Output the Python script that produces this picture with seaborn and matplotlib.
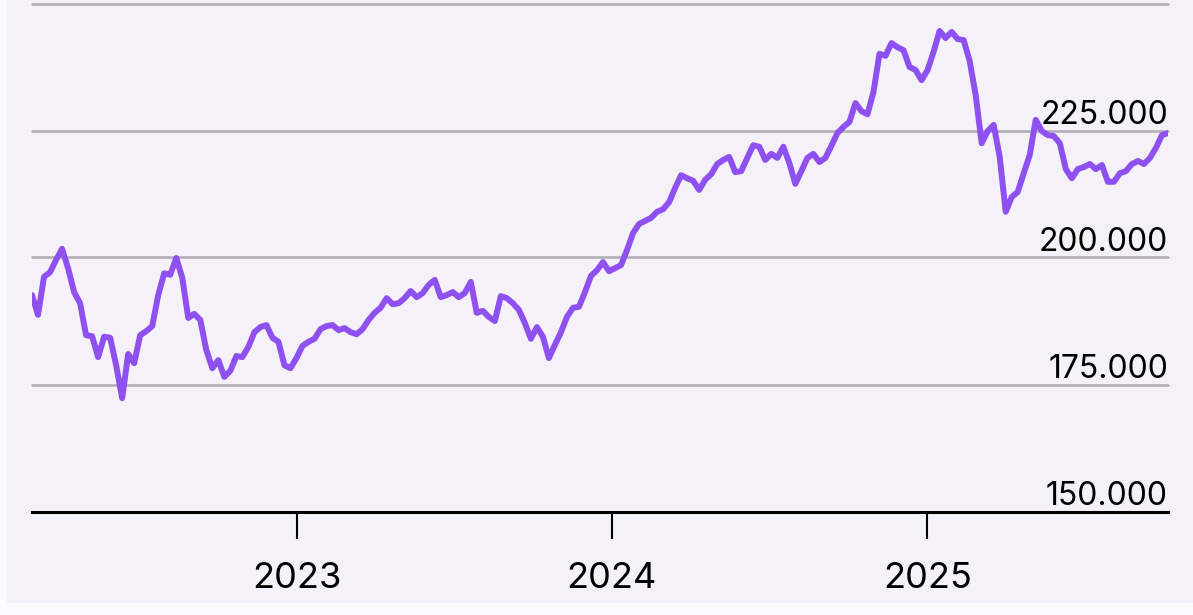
import matplotlib
matplotlib.use("Agg")
import matplotlib.pyplot as plt
import matplotlib.dates as mdates
from matplotlib.patches import Rectangle
import pandas as pd
import seaborn as sns

# ---- data (weekly series) ----
start_date = "2022-02-28"
end_date = "2025-10-07"
values = [
    192600, 188700, 196200, 197100, 199500, 201700, 197900, 193200, 191000, 184700,
    184500, 180400, 184400, 184200, 178800, 172300, 181000, 179200, 184700, 185500,
    186500, 192600, 196900, 196600, 199900, 196000, 188100, 188900, 187700, 181800,
    178200, 179800, 176500,
    177700, 180600, 180400, 182400, 185300, 186300, 186700, 184200, 183400, 178800,
    178200, 180200, 182600, 183400, 184000, 185900, 186500, 186700, 185700, 186100,
    185300, 184900, 185900, 187700, 189100, 190100, 192000, 190800, 191000, 192000,
    193400, 192200, 193000, 194600, 195600, 192200, 192600, 193200, 192200, 193000,
    195200, 189100, 189500, 188300, 187500, 192400, 192000, 191000, 189700, 187100,
    184000, 186300, 184400, 180200, 182800, 185300, 188300, 190100, 190300, 193200,
    196400, 197500,
    199100, 197300, 197900, 198500, 201500, 204800, 206600, 207200, 207800, 209000,
    209500, 210900, 213700, 216200, 215600, 215100, 213300, 215300, 216400, 218400,
    219200, 219800, 216800, 217000, 219600, 222100, 221800, 219200, 220400, 219600,
    221800, 218600,
    214500, 217000, 219600, 220400, 218800, 219600, 222000, 224500, 225700, 226700,
    230400, 228800, 228200, 232600, 240100, 239700, 242200, 241400, 240800, 237500,
    236900, 234900, 236900, 240500, 244600, 243200, 244400, 243000, 242800, 238700,
    232000,
    222500, 224900, 226100, 219800, 209000, 211900, 212900, 216600, 220200, 227100,
    224900, 224100, 223900, 222500, 217400, 215600, 217400, 217800, 218400, 217400,
    218200, 214900, 214900, 216600, 217000, 218400, 219000, 218400, 219600, 221600,
    224100, 224500,
]
y_ticks = [150000, 175000, 200000, 225000, 250000]
x_years = ["2023-01-01", "2024-01-01", "2025-01-01"]

df = pd.DataFrame({
    "date": pd.date_range(start_date, end_date, periods=len(values)),
    "value": values,
})

# ---- style ----
bg = "#f4f1f9"
frame = "#fbfafd"
line_color = "#8f50f0"
grid_color = "#b2afb6"

sns.set_theme(style="white")
plt.rcParams["font.family"] = ["Inter", "DejaVu Sans"]

W, H = 1193, 615
fig = plt.figure(figsize=(W / 100, H / 100), dpi=100, facecolor=frame)
fig.patches.append(Rectangle((7 / W, 12 / H), 1 - 7 / W, 1 - 12 / H,
                             transform=fig.transFigure, facecolor=bg,
                             edgecolor="none", zorder=-10))

ax = fig.add_axes([32 / W, 103.5 / H, 1136 / W, 508 / H])
ax.set_zorder(2)
ax.set_facecolor("none")

for v in y_ticks[1:]:
    ax.axhline(v, color=grid_color, lw=1.9, zorder=1, clip_on=False)

sns.lineplot(data=df, x="date", y="value", ax=ax, color=line_color,
             linewidth=4.3, zorder=3)
for ln in ax.get_lines():
    ln.set_solid_joinstyle("round")
    ln.set_solid_capstyle("round")

ax.set_xlim(df["date"].iloc[0], df["date"].iloc[-1])
ax.set_ylim(y_ticks[0], y_ticks[-1])

for s in ["top", "right", "left"]:
    ax.spines[s].set_visible(False)
ax.spines["bottom"].set_color("black")
ax.spines["bottom"].set_linewidth(2.2)
ax.spines["bottom"].set_zorder(4)

ax.set_yticks([])
ax.set_xlabel("")
ax.set_ylabel("")
ax.set_xticks(pd.to_datetime(x_years))
ax.xaxis.set_major_formatter(mdates.DateFormatter("%Y"))
ax.tick_params(axis="x", direction="out", length=19.5, width=1.5,
               color="black", labelsize=26, labelcolor="black", pad=17,
               bottom=True)

for v in y_ticks[:-1]:
    ax.annotate(f"{v:,}".replace(",", "."), xy=(1, v),
                xycoords=("axes fraction", "data"), xytext=(0, 5),
                textcoords="offset points", ha="right", va="baseline",
                fontsize=23, color="black", annotation_clip=False, zorder=5)

fig.savefig("out.png", dpi=100, facecolor=frame)
